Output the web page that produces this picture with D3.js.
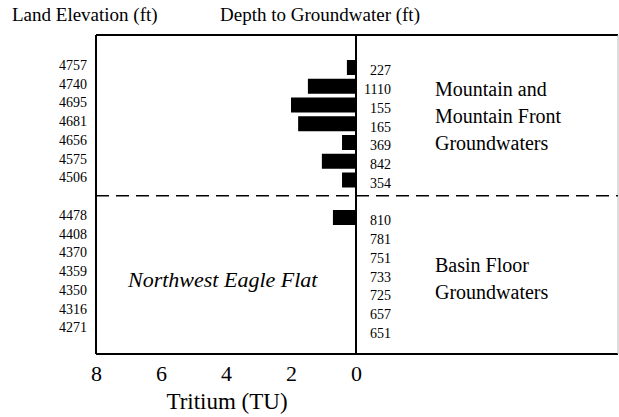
<!DOCTYPE html>
<html>
<head>
<meta charset="utf-8">
<script src="https://cdn.jsdelivr.net/npm/d3@7"></script>
<style>
  body { margin: 0; background: #fff; }
</style>
</head>
<body>
<div id="chart"></div>
<script>
var svgWidth = 619;
var svgHeight = 417;
var serif = "'Liberation Serif', Tinos, 'Times New Roman', Times, 'DejaVu Serif', serif";

// rows, top to bottom
var elevTop = [4757, 4740, 4695, 4681, 4656, 4575, 4506];
var depthTop = [227, 1110, 155, 165, 369, 842, 354];
var tritiumTop = [0.28, 1.48, 2.0, 1.78, 0.43, 1.05, 0.43];

var elevBottom = [4478, 4408, 4370, 4359, 4350, 4316, 4271];
var depthBottom = [810, 781, 751, 733, 725, 657, 651];
var tritiumBottom = [0.71, null, null, null, null, null, null];

var xTicks = [8, 6, 4, 2, 0];

var box = {left: 96, right: 618, top: 35, bottom: 354};

// one empty slot between the two groups holds the dashed divider
var rows = [];
elevTop.forEach(function(e, i) {
  rows.push({slot: i, elev: e, depth: depthTop[i], tu: tritiumTop[i]});
});
elevBottom.forEach(function(e, i) {
  rows.push({slot: i + 8, elev: e, depth: depthBottom[i], tu: tritiumBottom[i]});
});

var svg = d3.select("#chart")
  .append("svg")
  .attr("width", svgWidth)
  .attr("height", svgHeight);

var x = d3.scaleLinear()
  .domain([8, 0])
  .range([box.left, 356]);

var y = d3.scalePoint()
  .domain(d3.range(15))
  .range([67.5, 330]);

var barH = 15;

function addText(sel) {
  return sel.append("text")
    .style("font-family", serif)
    .attr("fill", "#000");
}

// frame
svg.append("line")
  .attr("x1", box.left).attr("x2", box.right)
  .attr("y1", box.top).attr("y2", box.top)
  .attr("stroke", "#000").attr("stroke-width", 2);
svg.append("line")
  .attr("x1", box.left).attr("x2", box.right)
  .attr("y1", box.bottom).attr("y2", box.bottom)
  .attr("stroke", "#000").attr("stroke-width", 2);
svg.append("line")
  .attr("x1", box.left).attr("x2", box.left)
  .attr("y1", box.top).attr("y2", box.bottom)
  .attr("stroke", "#000").attr("stroke-width", 2);
svg.append("line")
  .attr("x1", box.right).attr("x2", box.right)
  .attr("y1", box.top).attr("y2", box.bottom)
  .attr("stroke", "#bbb").attr("stroke-width", 1);

// dashed divider
svg.append("line")
  .attr("x1", box.left).attr("x2", box.right)
  .attr("y1", y(7) - 3).attr("y2", y(7) - 3)
  .attr("stroke", "#000").attr("stroke-width", 1.6)
  .attr("stroke-dasharray", "13,7");

// bars
svg.selectAll(".bar")
  .data(rows.filter(d => d.tu != null))
  .enter()
  .append("rect")
  .attr("class", "bar")
  .attr("x", d => x(d.tu))
  .attr("y", d => y(d.slot) - barH / 2)
  .attr("width", d => x(0) - x(d.tu))
  .attr("height", barH)
  .attr("fill", "#000");

// zero line
svg.append("line")
  .attr("x1", x(0)).attr("x2", x(0))
  .attr("y1", box.top).attr("y2", box.bottom)
  .attr("stroke", "#000").attr("stroke-width", 2);

// land elevation labels
rows.forEach(function(d) {
  addText(svg)
    .attr("x", 87)
    .attr("y", y(d.slot) - 2.5)
    .attr("dy", "0.35em")
    .attr("text-anchor", "end")
    .attr("font-size", "14px")
    .text(d.elev);
});

// depth labels
rows.forEach(function(d) {
  addText(svg)
    .attr("x", 391)
    .attr("y", y(d.slot) + 3)
    .attr("dy", "0.35em")
    .attr("text-anchor", "end")
    .attr("font-size", "14px")
    .text(d.depth);
});

// x axis
var bottomAxis = d3.axisBottom(x).tickValues(xTicks).tickSize(0).tickPadding(0);
var axisG = svg.append("g")
  .attr("transform", `translate(0, ${box.bottom})`)
  .call(bottomAxis);
axisG.select(".domain").remove();
axisG.selectAll("text")
  .attr("y", 27)
  .attr("dy", 0)
  .style("font-family", serif)
  .attr("font-size", "22px")
  .attr("fill", "#000");

addText(svg)
  .attr("x", 227)
  .attr("y", 409)
  .attr("text-anchor", "middle")
  .attr("font-size", "23px")
  .text("Tritium (TU)");

// titles
addText(svg)
  .attr("x", 12)
  .attr("y", 21)
  .attr("font-size", "19px")
  .text("Land Elevation (ft)");
addText(svg)
  .attr("x", 220)
  .attr("y", 21)
  .attr("font-size", "19px")
  .text("Depth to Groundwater (ft)");

// group notes
var noteTop = ["Mountain and", "Mountain Front", "Groundwaters"];
var noteBottom = ["Basin Floor", "Groundwaters"];
noteTop.forEach(function(t, i) {
  addText(svg)
    .attr("x", 435)
    .attr("y", 96 + i * 27)
    .attr("font-size", "20px")
    .text(t);
});
noteBottom.forEach(function(t, i) {
  addText(svg)
    .attr("x", 435)
    .attr("y", 272 + i * 27)
    .attr("font-size", "20px")
    .text(t);
});

addText(svg)
  .attr("x", 128)
  .attr("y", 287)
  .attr("font-size", "22px")
  .attr("font-style", "italic")
  .text("Northwest Eagle Flat");
</script>
</body>
</html>
